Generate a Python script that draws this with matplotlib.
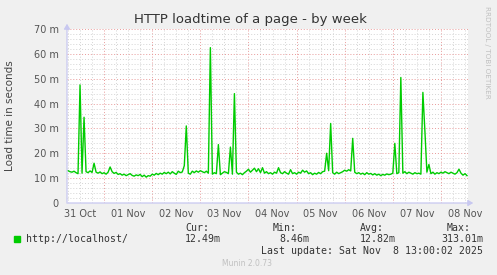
import numpy as np
import matplotlib
matplotlib.use('Agg')
import matplotlib.pyplot as plt
from matplotlib.patches import Rectangle

# hourly load time (ms), hours counted from 31 Oct 00:00
hours = np.arange(6, 206)
load_oct31 = [13.0, 12.6, 12.4, 12.8, 12.2, 11.8, 47.5, 12.0, 34.5, 12.6, 12.2, 12.9,
              12.3, 16.0, 12.4, 12.0, 12.5]
load_nov01 = [11.8, 12.2, 11.6, 12.4, 14.5, 12.6, 11.9, 12.3, 11.5, 11.8, 11.2, 11.6,
              11.0, 11.4, 11.8, 11.1, 10.8, 11.3, 11.0, 11.5, 10.6, 11.2, 10.4, 11.0]
load_nov02 = [10.8, 11.6, 11.2, 11.9, 11.4, 12.0, 11.6, 12.3, 11.8, 12.4, 11.7, 12.6,
              12.0, 11.5, 12.8, 12.2, 12.5, 15.0, 31.0, 12.0, 11.6, 12.8, 12.2, 12.9]
load_nov03 = [12.4, 13.0, 12.6, 12.2, 12.8, 12.0, 62.5, 11.6, 12.2, 11.8, 23.5, 11.4,
              12.0, 12.6, 12.3, 11.8, 22.5, 11.6, 44.0, 12.4, 11.6, 12.0, 11.4, 12.2]
load_nov04 = [12.8, 13.6, 12.4, 13.2, 14.0, 12.6, 13.8, 12.2, 14.2, 12.0, 12.6, 11.8,
              12.2, 11.6, 12.4, 12.0, 14.2, 12.2, 11.8, 12.6, 12.0, 11.6, 13.4, 11.8]
load_nov05 = [12.2, 11.6, 12.4, 12.0, 13.2, 12.4, 12.9, 11.8, 12.2, 11.4, 12.0, 11.6,
              12.3, 11.8, 12.6, 12.8, 20.0, 13.0, 32.0, 12.2, 11.6, 12.4, 11.8, 12.2]
load_nov06 = [12.6, 13.2, 12.8, 13.4, 12.9, 26.0, 12.4, 11.8, 12.2, 11.6, 12.0, 11.4,
              12.2, 11.6, 11.9, 11.3, 11.8, 11.2, 11.6, 11.0, 11.5, 11.2, 11.7, 11.4]
load_nov07 = [11.6, 12.0, 24.0, 11.8, 12.2, 50.5, 12.0, 12.6, 11.8, 12.4, 12.0, 11.6,
              12.2, 11.8, 12.0, 11.6, 44.5, 29.0, 12.4, 15.5, 11.8, 12.4, 11.6, 12.2]
load_nov08 = [11.8, 12.4, 12.0, 12.6, 12.2, 11.8, 12.4, 12.0, 11.6, 12.2, 13.6, 12.0,
              11.2, 11.8, 11.0]
load = (load_oct31 + load_nov01 + load_nov02 + load_nov03 + load_nov04 + load_nov05
        + load_nov06 + load_nov07 + load_nov08)

day_labels = ['31 Oct', '01 Nov', '02 Nov', '03 Nov', '04 Nov', '05 Nov', '06 Nov', '07 Nov', '08 Nov']
yticks = [0, 10, 20, 30, 40, 50, 60, 70]
ytick_labels = ['0', '10 m', '20 m', '30 m', '40 m', '50 m', '60 m', '70 m']

W, H = 497, 275
def fx(px):
    return px / W
def fy(py):
    return 1 - py / H

fig = plt.figure(figsize=(W / 100, H / 100), dpi=100, facecolor='#f0f0f0')
ax = fig.add_axes([fx(67), fy(203), 401 / W, 174 / H])
ax.set_facecolor('white')
ax.set_xlim(5.5, 205.5)
ax.set_ylim(0, 70)

ax.plot(hours, load, color='#00cc00', linewidth=1.0, zorder=3)

# grid
ax.set_xticks(np.arange(24, 205, 24))
ax.set_xticks(np.arange(6, 206, 6), minor=True)
ax.set_yticks(yticks)
ax.set_yticks(np.arange(0, 71, 2), minor=True)
ax.set_axisbelow(True)
ax.grid(which='minor', color='#d4d4d4', linestyle=(0, (1, 2)), linewidth=0.7)
ax.grid(which='major', color='#e89a9a', linestyle=(0, (1, 2)), linewidth=0.7)
ax.set_xticklabels([])
ax.set_yticklabels(ytick_labels, fontsize=7, color='#555555')
ax.tick_params(axis='both', which='both', length=0)
ax.tick_params(axis='y', pad=6)
for s in ax.spines.values():
    s.set_visible(False)

for i, lab in enumerate(day_labels):
    ax.text(12 + 24 * i, -4.5, lab, ha='center', va='center', fontsize=7, color='#555555')

# axis arrows
fig.add_artist(matplotlib.patches.FancyArrowPatch((fx(67), fy(205)), (fx(67), fy(21)),
               transform=fig.transFigure, arrowstyle='-|>,head_length=3,head_width=1.8',
               color='#c8c8f0', linewidth=0.9, mutation_scale=1))
fig.add_artist(matplotlib.patches.FancyArrowPatch((fx(64), fy(203)), (fx(476), fy(203)),
               transform=fig.transFigure, arrowstyle='-|>,head_length=3,head_width=1.8',
               color='#c8c8f0', linewidth=0.9, mutation_scale=1))

fig.text(fx(250), fy(19), 'HTTP loadtime of a page - by week', ha='center', va='center',
         fontsize=9.5, color='#333333')
fig.text(fx(10), fy(116), 'Load time in seconds', rotation=90, ha='center', va='center',
         fontsize=7.5, color='#444444')
fig.text(fx(487), fy(52), 'RRDTOOL / TOBI OETIKER', rotation=270, ha='center', va='center',
         fontsize=5.2, color='#c0c0c0')

# legend
mono = 'DejaVu Sans Mono'
fs = 7.1
fig.add_artist(Rectangle((fx(14), fy(242)), 6 / W, 6 / H, transform=fig.transFigure,
                         color='#00cc00'))
fig.text(fx(26), fy(239), 'http://localhost/', family=mono, fontsize=fs, color='#333333', va='center')
fig.text(fx(185), fy(228), 'Cur:', family=mono, fontsize=fs, color='#333333', va='center')
fig.text(fx(185), fy(239), '12.49m', family=mono, fontsize=fs, color='#333333', va='center')
fig.text(fx(273), fy(228), 'Min:', family=mono, fontsize=fs, color='#333333', va='center')
fig.text(fx(279), fy(239), '8.46m', family=mono, fontsize=fs, color='#333333', va='center')
fig.text(fx(360), fy(228), 'Avg:', family=mono, fontsize=fs, color='#333333', va='center')
fig.text(fx(360), fy(239), '12.82m', family=mono, fontsize=fs, color='#333333', va='center')
fig.text(fx(447), fy(228), 'Max:', family=mono, fontsize=fs, color='#333333', va='center')
fig.text(fx(441), fy(239), '313.01m', family=mono, fontsize=fs, color='#333333', va='center')
fig.text(fx(261), fy(251), 'Last update: Sat Nov  8 13:00:02 2025', family=mono, fontsize=fs,
         color='#333333', va='center')
fig.text(fx(247), fy(264), 'Munin 2.0.73', ha='center', va='center', fontsize=5.5, color='#c0c0c0')

fig.savefig('out.png', dpi=100, facecolor=fig.get_facecolor())
